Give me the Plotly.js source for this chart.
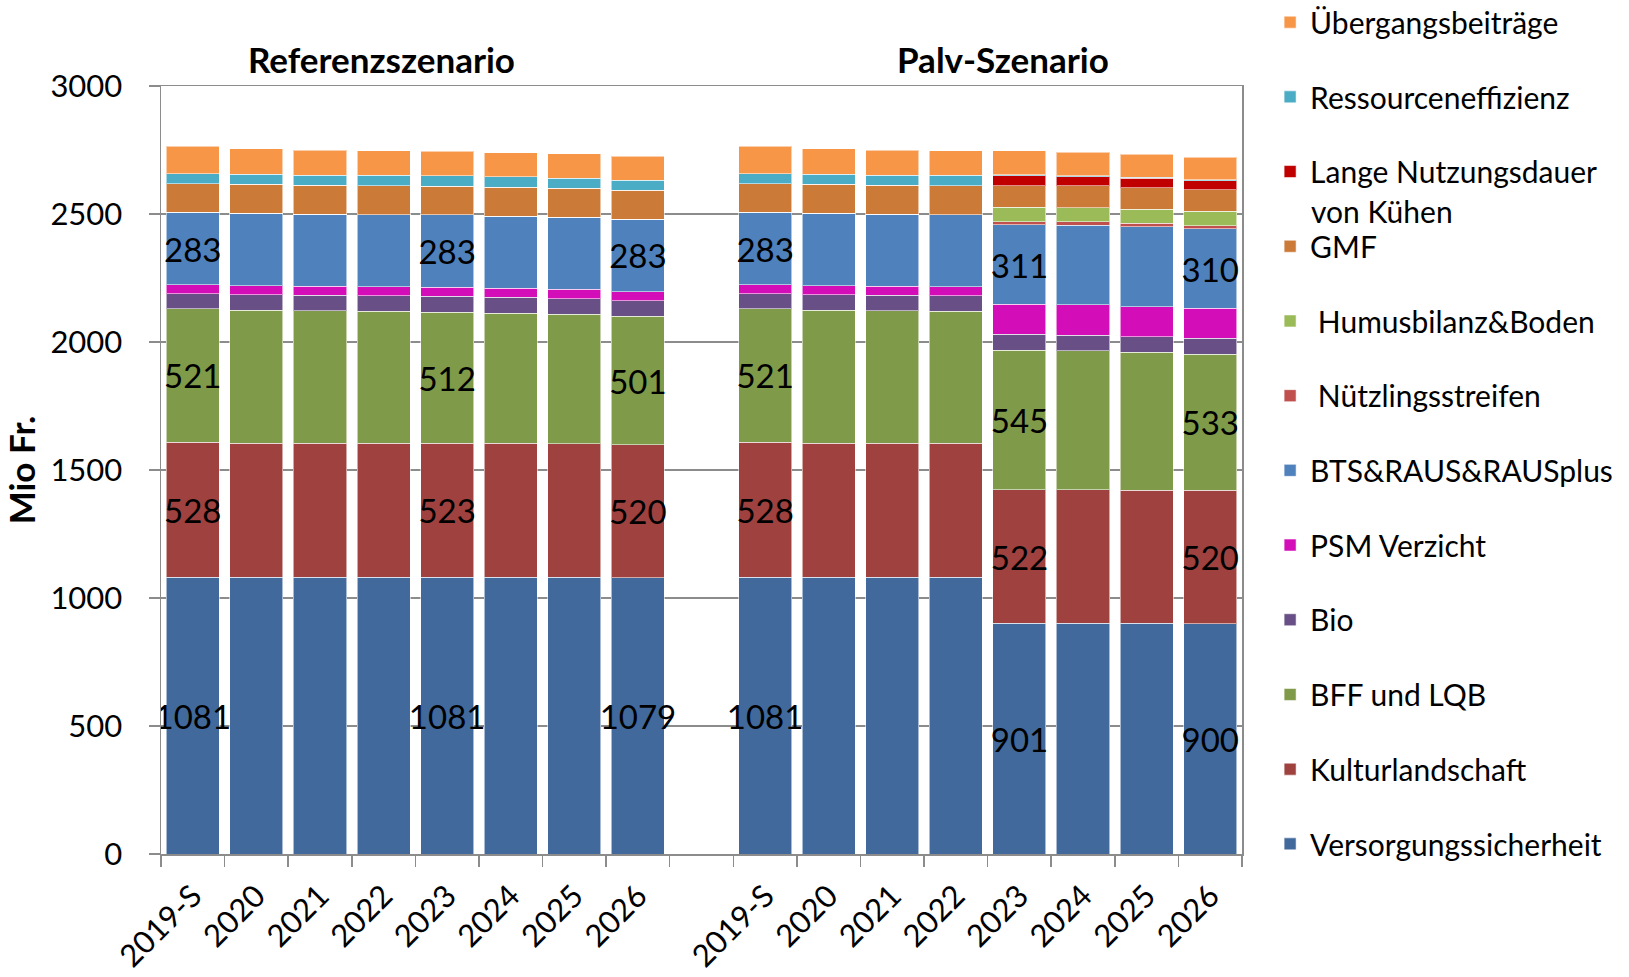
<!DOCTYPE html>
<html>
<head>
<meta charset="utf-8">
<script src="https://cdn.plot.ly/plotly-3.0.1.min.js"></script>
<style>html,body{margin:0;padding:0;background:#fff;}#chart{width:1629px;height:977px;}</style>
</head>
<body>
<div id="chart"></div>
<script>
// x categories: Referenzszenario, gap, Palv-Szenario
const years = ["2019-S","2020","2021","2022","2023","2024","2025","2026"];
const scenarioTitles = ["Referenzszenario", "Palv-Szenario"];

// Series values (17 slots: 8 reference, 1 gap, 8 Palv), Mio Fr.
const versorgung   = [1081,1081,1081,1081,1081,1081,1081,1079, null, 1081,1081,1081,1081, 901, 901, 901, 900];
const kultur       = [ 528, 524, 523, 523, 523, 523, 522, 520, null,  528, 524, 523, 523, 522, 521, 520, 520];
const bff          = [ 521, 520, 518, 516, 512, 509, 506, 501, null,  521, 520, 518, 516, 545, 543, 539, 533];
const bio          = [  59,  60,  60,  60,  62,  62,  60,  61, null,   59,  60,  60,  60,  62,  61,  61,  61];
const psm          = [  34,  35,  35,  35,  36,  35,  37,  36, null,   34,  35,  35,  35, 117, 119, 117, 118];
const bts          = [ 283, 283, 283, 283, 283, 282, 282, 283, null,  283, 283, 283, 283, 311, 311, 312, 310];
const nuetzling    = [   0,   0,   0,   0,   0,   0,   0,   0, null,    0,   0,   0,   0,  12,  13,  13,  12];
const humus        = [   0,   0,   0,   0,   0,   0,   0,   0, null,    0,   0,   0,   0,  56,  56,  56,  57];
const gmf          = [ 113, 113, 112, 113, 112, 113, 112, 112, null,  113, 113, 112, 113,  85,  85,  83,  83];
const langeNutzung = [   0,   0,   0,   0,   0,   0,   0,   0, null,    0,   0,   0,   0,  39,  36,  38,  35];
const ressource    = [  39,  40,  39,  41,  41,  41,  40,  40, null,   39,  40,  39,  41,   4,   4,   3,   4];
const uebergang    = [ 106,  99,  98,  96,  95,  93,  95,  93, null,  106,  99,  98,  96,  94,  91,  90,  89];

// which bars carry value labels
const labelled = [0, 4, 7, 9, 13, 16];

// legend label of "Lange Nutzungsdauer" wraps onto a second line
const langeLines = ["Lange Nutzungsdauer", "von Kühen"];

const catIds = years.map(y => "Ref " + y).concat(["gap"]).concat(years.map(y => "Palv " + y));
const catText = years.concat([""]).concat(years);

const series = [
  {name: "Versorgungssicherheit", y: versorgung, color: "#41699C", label: true},
  {name: "Kulturlandschaft", y: kultur, color: "#9E413F", label: true},
  {name: "BFF und LQB", y: bff, color: "#7F9A48", label: true},
  {name: "Bio", y: bio, color: "#684F86"},
  {name: "PSM Verzicht", y: psm, color: "#D30DB7"},
  {name: "BTS&RAUS&RAUSplus", y: bts, color: "#4F81BD", label: true},
  {name: " Nützlingsstreifen", y: nuetzling, color: "#C0504D"},
  {name: " Humusbilanz&Boden", y: humus, color: "#9BBB59"},
  {name: "GMF", y: gmf, color: "#CC7A38"},
  {name: langeLines[0], y: langeNutzung, color: "#C00000"},
  {name: "Ressourceneffizienz", y: ressource, color: "#4BACC6"},
  {name: "Übergangsbeiträge", y: uebergang, color: "#F79646"}
];

const FONT = "Lato, 'Open Sans', sans-serif";

const traces = series.map((s, k) => ({
  type: "bar",
  name: s.name,
  x: catIds,
  y: s.y,
  legendgroup: "g" + k,
  legendrank: 100 - k,
  marker: {color: s.color, line: {color: "rgba(255,255,255,0.55)", width: 1}},
  text: s.y.map((v, i) => (s.label && labelled.includes(i)) ? String(v) : ""),
  textposition: "inside",
  insidetextanchor: "middle",
  textangle: 0,
  textfont: {family: FONT, size: 33, color: "#000"},
  constraintext: "none",
  hoverinfo: "name+y"
}));

const layout = {
  width: 1629, height: 977,
  margin: {l: 161, r: 387, t: 86, b: 123, autoexpand: false},
  barmode: "stack",
  bargap: 0.165,
  paper_bgcolor: "#fff",
  plot_bgcolor: "#fff",
  font: {family: FONT, color: "#000"},
  uniformtext: {mode: "show", minsize: 33},
  xaxis: {
    type: "category",
    categoryorder: "array",
    categoryarray: catIds,
    tickmode: "array",
    tickvals: catIds,
    ticktext: catText,
    tickangle: -45,
    tickson: "boundaries",
    ticks: "outside",
    ticklen: 11,
    tickwidth: 1.5,
    tickcolor: "#8c8c8c",
    showline: true,
    linecolor: "#8c8c8c",
    linewidth: 1.5,
    mirror: true,
    showgrid: false,
    ticklabelstandoff: 10,
    tickfont: {family: FONT, size: 31, color: "#000"},
    automargin: false
  },
  yaxis: {
    range: [0, 3000],
    dtick: 500,
    ticks: "outside",
    ticklen: 11,
    tickwidth: 1.5,
    tickcolor: "#8c8c8c",
    showline: true,
    linecolor: "#8c8c8c",
    linewidth: 1.5,
    mirror: true,
    showgrid: true,
    gridcolor: "#8c8c8c",
    gridwidth: 1.5,
    zeroline: false,
    ticklabelstandoff: 20,
    tickfont: {family: FONT, size: 31, color: "#000"},
    title: {text: "<b>Mio Fr.</b>", font: {family: FONT, size: 35, color: "#000"}, standoff: 4},
    automargin: false
  },
  showlegend: true,
  legend: {
    x: 1.026, xanchor: "left",
    y: 1.117, yanchor: "top",
    traceorder: "grouped",
    tracegroupgap: 32.7,
    maxheight: 977,
    font: {family: FONT, size: 30, color: "#000"},
    bgcolor: "rgba(0,0,0,0)"
  },
  annotations: [
    {text: "<b>" + scenarioTitles[0] + "</b>", xref: "paper", yref: "paper", x: 0.204, y: 1.035, xanchor: "center", yanchor: "middle", showarrow: false, font: {family: FONT, size: 35, color: "#000"}},
    {text: "<b>" + scenarioTitles[1] + "</b>", xref: "paper", yref: "paper", x: 0.779, y: 1.035, xanchor: "center", yanchor: "middle", showarrow: false, font: {family: FONT, size: 35, color: "#000"}},
    {text: langeLines[1], xref: "paper", yref: "paper", x: (1309 - 161) / 1081, y: (854 - 211) / 768, xanchor: "left", yanchor: "middle", showarrow: false, font: {family: FONT, size: 30, color: "#000"}}
  ]
};

Plotly.newPlot("chart", traces, layout, {displayModeBar: false, staticPlot: true});
</script>
</body>
</html>
